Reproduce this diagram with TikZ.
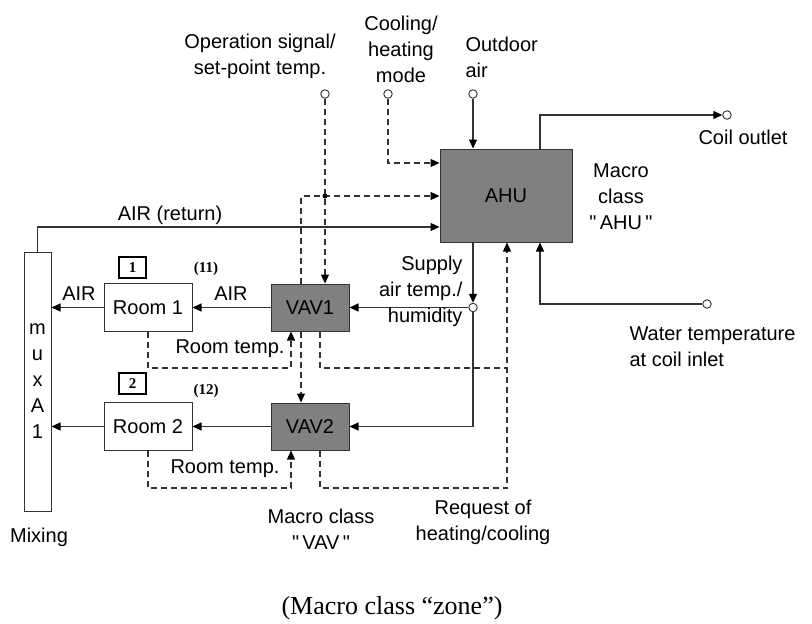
\documentclass[tikz,border=0pt]{standalone}
\usepackage{fontspec}
\setmainfont{Liberation Sans}[Ligatures=TeXOff]
\newfontfamily\capfont{Liberation Serif}
\usetikzlibrary{arrows.meta}

\begin{document}
\begin{tikzpicture}[x=1pt, y=-1pt,
    every node/.style={font=\fontsize{20}{26}\selectfont},
    block/.style={draw=black!80, line width=1pt, fill=black!50, minimum width=#1, minimum height=47pt, inner sep=0pt},
    room/.style={draw=black!80, line width=1pt, fill=white, minimum width=88pt, minimum height=48pt, inner sep=0pt},
    port/.style={circle, draw=black!80, line width=0.9pt, fill=white, inner sep=0pt, minimum size=8.5pt},
    tag/.style={draw, line width=1.3pt, minimum width=27pt, minimum height=21pt, inner sep=0pt, font=\capfont\bfseries\fontsize{15}{17}\selectfont},
    line/.style={draw=black!80, line width=1.1pt},
    flow/.style={line, -{Triangle[length=9pt,width=8pt,color=black]}},
    dsh/.style={line, dash pattern=on 6pt off 4pt},
    sig/.style={dsh, -{Triangle[length=9pt,width=8pt,color=black]}}
]
    \useasboundingbox (0,0) rectangle (812,624);

    % blocks
    \node[block=132pt, minimum height=93pt] (ahu) at (506,195.5) {AHU};
    \node[block=78pt] (vav1) at (310,307.5) {VAV1};
    \node[block=78pt] (vav2) at (310,426.5) {VAV2};
    \node[room] (room1) at (148,307.5) {Room 1};
    \node[room] (room2) at (148,426.5) {Room 2};
    \node[draw=black!80, line width=1pt, minimum width=27pt, minimum height=259pt, inner sep=0pt, align=center] (mix) at (37.5,381.5) {m\\u\\x\\A\\1};

    % ports
    \node[port] (op) at (325,94) {};
    \node[port] (cm) at (388,94) {};
    \node[port] (oa) at (473,94) {};
    \node[port] (co) at (727,115) {};
    \node[port] (sp) at (473,307.5) {};
    \node[port] (wt) at (707,304) {};

    % helper rows
    \coordinate (jn) at (325,196);
    \coordinate (cmrow) at (388,163);
    \coordinate (retrow) at (38,227);
    \coordinate (rt1) at (0,368);
    \coordinate (rt2) at (0,488);

    % air and water
    \draw[flow] (oa) -- (oa |- ahu.north);
    \draw[flow] ([xshift=34pt]ahu.north) |- (co);
    \draw[flow] (mix.north) |- (ahu.west |- retrow);
    \draw[flow] (oa |- ahu.south) -- (sp);
    \draw[flow] (sp) -- (vav1.east);
    \draw[flow] (sp) |- (vav2.east);
    \draw[flow] (wt) -| ([xshift=34pt]ahu.south);
    \draw[flow] (vav1) -- (room1);
    \draw[flow] (vav2) -- (room2);
    \draw[flow] (room1) -- (mix.east |- room1);
    \draw[flow] (room2) -- (mix.east |- room2);

    % signals
    \draw[sig] (op) -- (op |- vav1.north);
    \draw[sig] ([xshift=-9pt]vav1.north) |- (ahu.west |- jn);
    \fill (jn) circle (2.5pt);
    \draw[sig] (cm) |- (ahu.west |- cmrow);
    \draw[sig] (room1.south) -- (room1.south |- rt1) -| ([xshift=-19pt]vav1.south);
    \draw[sig] (room2.south) -- (room2.south |- rt2) -| ([xshift=-19pt]vav2.south);
    \draw[sig] ([xshift=-9pt]vav1.south) -- ([xshift=-9pt]vav2.north);
    \draw[dsh] ([xshift=10pt]vav1.south) |- ([xshift=1pt]ahu.south |- rt1);
    \draw[sig] ([xshift=10pt]vav2.south) |- ([xshift=1pt]ahu.south |- rt2) -- ([xshift=1pt]ahu.south);

    % labels
    \node[align=center] (oplbl) at (260,56.5) {Operation signal/\\set-point temp.};
    \node[align=center] (cmlbl) at (401,49.5) {Cooling/\\heating\\mode};
    \node[align=left, anchor=west] (oalbl) at (462,57.5) {Outdoor\\air};
    \node (colbl) at (743,137) {Coil outlet};
    \node[align=center] (ahulbl) at (621,197) {Macro\\class\\"\,AHU\,"};
    \node[align=right, anchor=east] (splbl) at (466,291) {Supply\\air temp./\\humidity};
    \node[align=left, anchor=west] (wtlbl) at (626,346.5) {Water temperature\\at coil inlet};
    \node (retlbl) at (170,215) {AIR (return)};
    \node (air1) at (79,294) {AIR};
    \node (air2) at (231,294) {AIR};
    \node (rt1lbl) at (230,349) {Room temp.};
    \node (rt2lbl) at (225,469) {Room temp.};
    \node (mixlbl) at (39,537) {Mixing};
    \node[align=center] (vavlbl) at (321,529.5) {Macro class\\"\,VAV\,"};
    \node[align=center] (reqlbl) at (483,522.5) {Request of\\heating/cooling};
    \node[tag] (n1) at (132.5,267.5) {1};
    \node[tag] (n2) at (132.5,383.5) {2};
    \node[font=\capfont\bfseries\fontsize{15}{17}\selectfont] (z11) at (206,269) {(11)};
    \node[font=\capfont\bfseries\fontsize{15}{17}\selectfont] (z12) at (206,391) {(12)};
    \node[font=\capfont\fontsize{26}{30}\selectfont] (cap) at (392,608) {(Macro class “zone”)};
\end{tikzpicture}
\end{document}
